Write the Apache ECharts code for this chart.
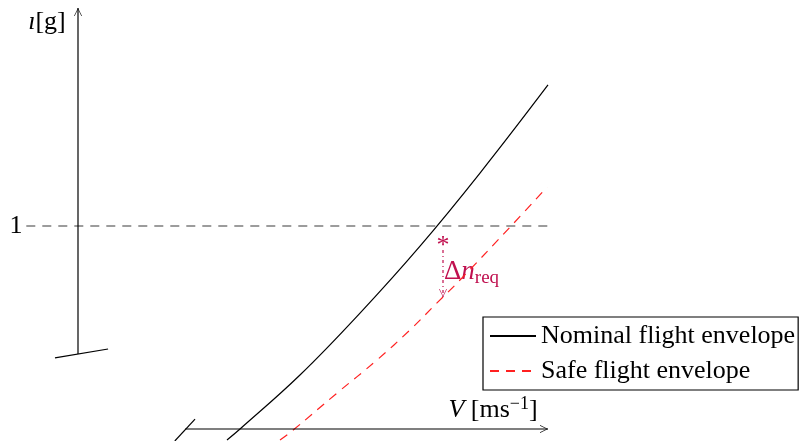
<!DOCTYPE html>
<html>
<head>
<meta charset="utf-8">
<script src="https://cdn.jsdelivr.net/npm/echarts@6/dist/echarts.min.js"></script>
<style>
  html, body { margin: 0; padding: 0; background: #fff; }
  #chart { width: 804px; height: 441px; }
</style>
</head>
<body>
<div id="chart"></div>
<script>
// velocity V (arbitrary units) and load factor n
const nominalV = [3.17, 3.447, 4.723, 6.0, 7.277, 8.553, 10.0]
const nominalN = [-0.054, 0, 0.266, 0.571, 0.901, 1.261, 1.695]
const safeV = [4.298, 4.553, 5.511, 6.362, 7.064, 7.638, 8.128, 9.255, 9.979]
const safeN = [-0.054, -0.010, 0.177, 0.340, 0.488, 0.621, 0.734, 1.010, 1.192]
const seriesNames = ['Nominal flight envelope', 'Safe flight envelope']
const nOne = 1
const deltaTop = 0.882
const deltaBottom = 0.650
const deltaV = 7.766

const serif = '"Liberation Serif", "DejaVu Serif", serif'
const magenta = '#c0104f'
// thin open chevron, tip up
const arrowHead = 'path://M0,10 L5,0 L10,10 L9.2,10 L5,1.6 L0.8,10 Z'

const zip = (xs, ys) => xs.map((x, i) => [x, ys[i]])

const chart = echarts.init(document.getElementById('chart'), null, { renderer: 'canvas' })

function textPoint(pos, formatter, rich, opts) {
  opts = opts || {}
  return {
    type: 'scatter',
    silent: true,
    clip: false,
    symbolSize: 0,
    data: [pos],
    itemStyle: { opacity: 1 },
    label: {
      show: true,
      position: opts.position || 'inside',
      distance: 0,
      formatter: formatter,
      color: opts.color || '#000',
      fontFamily: serif,
      fontSize: 26,
      rich: rich
    }
  }
}

function axisLine(from, to, arrowRotate, arrowOffset, color, type) {
  return {
    type: 'line',
    silent: true,
    clip: false,
    showSymbol: true,
    data: [
      { value: from, symbol: 'none' },
      { value: to, symbol: arrowHead, symbolSize: [8, 8], symbolRotate: arrowRotate, symbolOffset: arrowOffset }
    ],
    itemStyle: { color: color || '#000', borderWidth: 0 },
    lineStyle: { color: color || '#000', width: 1.2, type: type || 'solid' }
  }
}

function plainLine(points, color, width, type) {
  return {
    type: 'line',
    silent: true,
    clip: false,
    symbol: 'none',
    data: points,
    lineStyle: { color: color, width: width, type: type }
  }
}

chart.setOption({
  animation: false,
  backgroundColor: '#fff',
  grid: { left: 0, right: 256, top: 8, bottom: 12 },
  xAxis: { type: 'value', min: -78 / 47, max: 10, show: false },
  yAxis: { type: 'value', min: 0, max: 2.074, show: false },
  legend: {
    data: seriesNames,
    orient: 'vertical',
    left: 483,
    top: 317,
    padding: [5, 3, 5, 6],
    itemGap: 7,
    itemWidth: 46,
    itemHeight: 14,
    backgroundColor: '#fff',
    borderColor: '#000',
    borderWidth: 1.2,
    borderRadius: 0,
    selectedMode: false,
    textStyle: { fontFamily: serif, fontSize: 26, lineHeight: 28, color: '#000', padding: [0, 0, 0, 0] }
  },
  series: [
    {
      name: seriesNames[0],
      type: 'line',
      clip: false,
      symbol: 'none',
      smooth: 0.4,
      data: zip(nominalV, nominalN),
      lineStyle: { color: '#000', width: 1.2 },
      itemStyle: { color: 'transparent', borderWidth: 0 }
    },
    {
      name: seriesNames[1],
      type: 'line',
      clip: false,
      symbol: 'none',
      smooth: 0.4,
      data: zip(safeV, safeN),
      lineStyle: { color: '#ff2020', width: 1.2, type: [9, 7] },
      itemStyle: { color: 'transparent', borderWidth: 0 }
    },
    // n = 1 reference
    plainLine([[-1.1, nOne], [10, nOne]], '#3a3a3a', 1.2, [9, 7]),
    // vertical axis with break mark
    axisLine([0, 0.369], [0, 2.074], 0, [0, 4]),
    plainLine([[-0.49, 0.350], [0.64, 0.394]], '#000', 1.2, 'solid'),
    // horizontal axis with break mark
    axisLine([2.28, 0], [10, 0], -90, [-4, 0]),
    plainLine([[2.06, -0.059], [2.49, 0.049]], '#000', 1.2, 'solid'),
    // required load factor margin
    axisLine([deltaV, deltaTop], [deltaV, deltaBottom], 180, [0, -4], magenta, [3, 3, 1, 3]),
    textPoint([deltaV, 0.900], '*', null, { color: magenta }),
    textPoint([7.787, 0.773], '{d|Δ}{n|n}{s|req}', {
      d: { fontFamily: serif, fontSize: 27, color: magenta },
      n: { fontFamily: serif, fontSize: 27, fontStyle: 'italic', color: magenta },
      s: { fontFamily: serif, fontSize: 19, color: magenta, padding: [12, 0, 0, 0] }
    }, { color: magenta, position: 'right' }),
    // labels
    textPoint([-1.319, nOne], '1'),
    textPoint([-0.66, 2.005], '{i|ı}{t|[g]}', {
      i: { fontFamily: serif, fontSize: 26, fontStyle: 'italic' },
      t: { fontFamily: serif, fontSize: 26 }
    }),
    textPoint([8.83, 0.094], '{i|V}{t| [ms}{s|−1}{t|]}', {
      i: { fontFamily: serif, fontSize: 26, fontStyle: 'italic' },
      t: { fontFamily: serif, fontSize: 26 },
      s: { fontFamily: serif, fontSize: 18, padding: [0, 0, 12, 0] }
    })
  ]
})
</script>
</body>
</html>
